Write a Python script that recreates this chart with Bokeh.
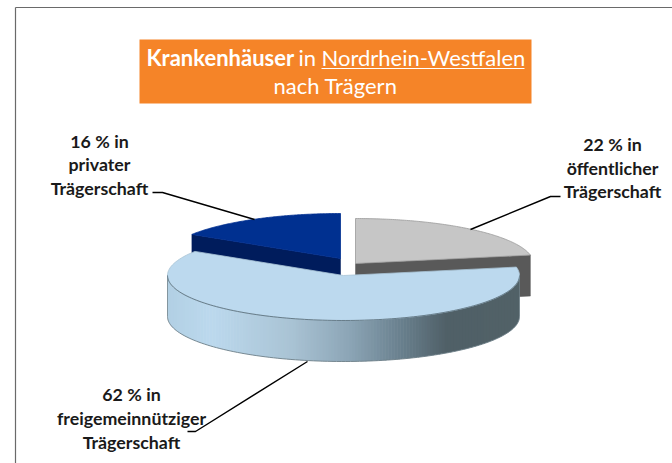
import numpy as np
from bokeh.plotting import figure
from bokeh.core.properties import value
from bokeh.embed import file_html
from bokeh.resources import INLINE

categories = ["öffentlich", "freigemeinnützig", "privat"]
shares = [22, 62, 16]

FONT = value("Lato")
p = figure(width=672, height=463, x_range=(0, 672), y_range=(463, 0),
           toolbar_location=None, output_backend="svg", min_border=0,
           outline_line_color=None, background_fill_color="white")
p.axis.visible = False
p.grid.visible = False

A, B, D = 176.0, 45.0, 41.0


def rim(cx, cy, a0, a1, n=120, a=A):
    t = np.radians(np.linspace(a0, a1, n))
    return cx + a * np.sin(t), cy - B * np.cos(t)


def top(cx, cy, a0, a1, color, line, a=A):
    x, y = rim(cx, cy, a0, a1, a=a)
    p.patch(np.r_[cx, x], np.r_[cy, y], fill_color=color, line_color=line, line_width=0.8)


def cut(cx, cy, ang, color, a=A):
    x, y = rim(cx, cy, ang, ang, 1, a=a)
    p.patch([cx, x[0], x[0], cx], [cy, y[0], y[0] + D, cy + D],
            fill_color=color, line_color=color, line_width=0.5)


ang = np.cumsum([0] + shares) * 3.6
centres = [(355.0, 263.0), (343.0, 275.0), (340.0, 258.0)]

cut(*centres[2], ang[2], "#001c5c")
top(*centres[2], ang[2], ang[3], "#003090", "#003090")

cut(*centres[0], ang[1], "#595959", a=178.0)
top(*centres[0], ang[0], ang[1], "#c6c6c6", "#9a9a9a", a=178.0)

cx, cy = centres[1]
stops_x = [167, 210, 290, 350, 400, 447, 519]
stops_c = np.array([[178, 208, 228], [188, 217, 238], [170, 196, 213],
                    [140, 165, 182], [105, 128, 142], [80, 96, 103], [82, 98, 104]], float)
edges = np.linspace(cx - A, cx + A, 119)
for x0, x1 in zip(edges[:-1], edges[1:]):
    xs = np.linspace(x0, x1 + 0.6 if x1 < cx + A else x1, 5)
    ys = cy + B * np.sqrt(np.clip(1 - ((xs - cx) / A) ** 2, 0, 1))
    mid = (x0 + x1) / 2
    c = [int(np.interp(mid, stops_x, stops_c[:, k])) for k in range(3)]
    col = "#%02x%02x%02x" % tuple(c)
    p.patch(np.r_[xs, xs[::-1]], np.r_[ys, ys[::-1] + D], fill_color=col, line_color=None)
ox, oy = rim(cx, cy, 90, 270)
p.line(ox, oy + D, line_color="#6d7f88", line_width=0.9)
p.segment([cx - A, cx + A], [cy, cy], [cx - A, cx + A], [cy + D, cy + D],
          line_color="#6d7f88", line_width=0.8)
top(cx, cy, ang[1], ang[2], "#bcd9ee", "#a9c4d6")
p.line(ox, oy, line_color="#5f7480", line_width=0.9)

p.line([15, 15], [463, 7], line_color="#6a6a6a", line_width=1.2)
p.line([15, 672], [7, 7], line_color="#6a6a6a", line_width=1.2)

p.quad(left=[139], right=[531], top=[39], bottom=[103], fill_color="#f58428", line_color=None)


def txt(x, y, s, style="normal", size="22px", color="white", align="left"):
    p.text([x], [y], text=[s], text_font=FONT, text_font_style=style, text_font_size=size,
           text_color=color, text_align=align, text_baseline="middle")


txt(146, 57, "Krankenhäuser", "bold")
txt(298, 57, "in")
txt(321, 57, "Nordrhein-Westfalen")
p.line([321, 524], [68, 68], line_color="white", line_width=1.2)
txt(335, 85, "nach Trägern", align="center")

labels = [
    (99, [140, 163, 187], ["16 % in", "privater", "Trägerschaft"]),
    (612, [143, 167, 190], ["22 % in", "öffentlicher", "Trägerschaft"]),
    (131, [393, 417, 441], ["62 % in", "freigemeinnütziger", "Trägerschaft"]),
]
for lx, ys, lines in labels:
    for ly, s in zip(ys, lines):
        txt(lx, ly, s, "bold", "17.8px", "#1a1a1a", "center")

leaders = [
    ([152, 162, 254], [192, 192, 219]),
    ([470, 550, 560], [229, 196, 196]),
    ([307, 195, 187], [361, 431, 431]),
]
for lx, ly in leaders:
    p.line(lx, ly, line_color="black", line_width=1.4)

open("out.html", "w").write(file_html(p, INLINE))
